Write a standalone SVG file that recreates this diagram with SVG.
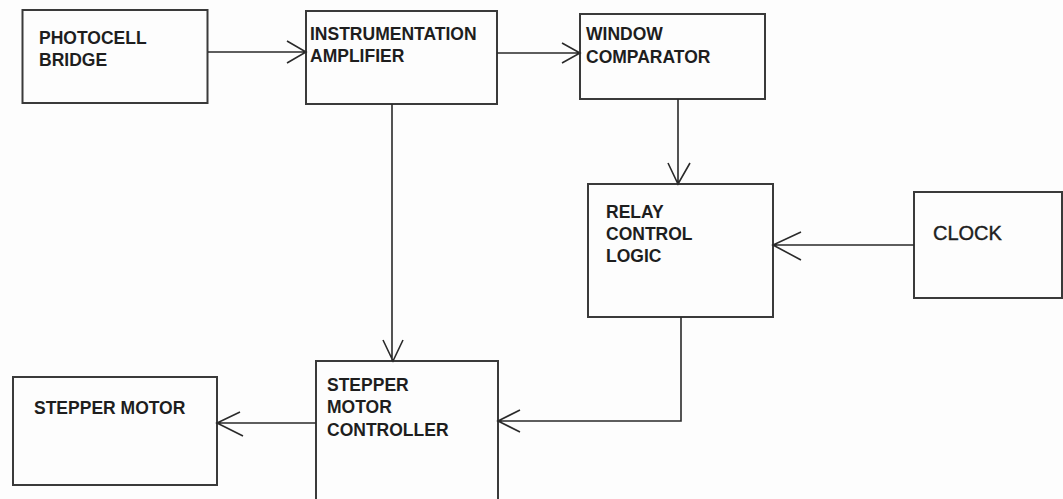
<svg xmlns="http://www.w3.org/2000/svg" width="1063" height="499" viewBox="0 0 1063 499">
<style>
.box{fill:none;stroke:#3a3a3a;stroke-width:2}
.t{font-family:"Liberation Sans",Arial,sans-serif;font-weight:bold;font-size:17.5px;fill:#1e1e1e}
.tc{font-family:"Liberation Sans",Arial,sans-serif;font-size:20px;fill:#1e1e1e;stroke:#1e1e1e;stroke-width:0.4}
.c{fill:none;stroke:#2a2a2a;stroke-width:1.6}
</style>
<rect width="1063" height="499" fill="#fdfdfd"/>
<g id="photocell">
<rect class="box" x="22.5" y="10" width="185" height="93"/>
<text class="t" x="39" y="44">PHOTOCELL</text>
<text class="t" x="39" y="66">BRIDGE</text>
</g>
<g id="instamp">
<rect class="box" x="306" y="11" width="191" height="93"/>
<text class="t" x="310" y="40">INSTRUMENTATION</text>
<text class="t" x="310" y="62">AMPLIFIER</text>
</g>
<g id="window">
<rect class="box" x="580" y="14" width="185" height="85"/>
<text class="t" x="586" y="40">WINDOW</text>
<text class="t" x="586" y="63">COMPARATOR</text>
</g>
<g id="relay">
<rect class="box" x="588" y="184" width="185" height="133"/>
<text class="t" x="606" y="218">RELAY</text>
<text class="t" x="606" y="240">CONTROL</text>
<text class="t" x="606" y="262">LOGIC</text>
</g>
<g id="clock">
<rect class="box" x="914" y="192" width="148" height="106"/>
<text class="tc" x="933" y="240">CLOCK</text>
</g>
<g id="controller">
<rect class="box" x="316" y="361" width="182" height="145"/>
<text class="t" x="327" y="391">STEPPER</text>
<text class="t" x="327" y="413">MOTOR</text>
<text class="t" x="327" y="436">CONTROLLER</text>
</g>
<g id="motor">
<rect class="box" x="13" y="377" width="204" height="108"/>
<text class="t" x="34" y="414">STEPPER MOTOR</text>
</g>
<g id="connectors">
<path class="c" d="M208 52H306M287 41L306 52L287 63"/>
<path class="c" d="M497 53H580M562 43L580 53L562 63"/>
<path class="c" d="M678 99V184M668 163L678 184L690 163"/>
<path class="c" d="M914 245H773M801 232L773 245L801 260"/>
<path class="c" d="M681 317V421H498M520 410L498 421L520 432"/>
<path class="c" d="M392 104V361M383 340L393 361L403 340"/>
<path class="c" d="M316 423H217M240 412L217 423L243 436"/>
</g>
</svg>
